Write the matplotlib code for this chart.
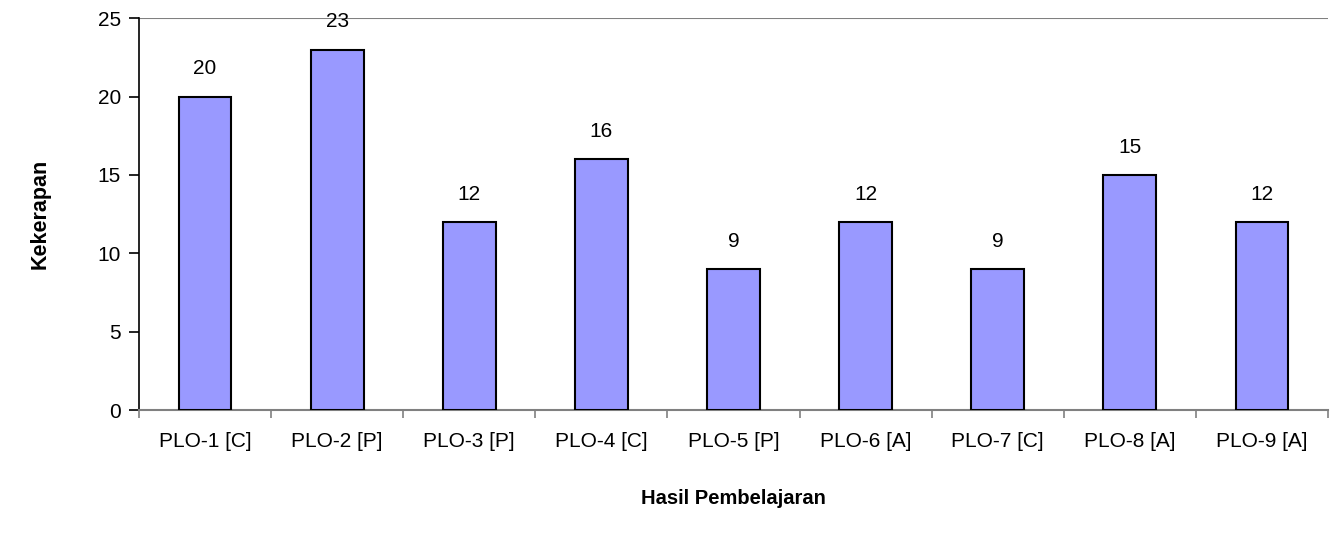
import numpy as np
import matplotlib
matplotlib.use('Agg')
import matplotlib.pyplot as plt

plt.rcParams['font.family'] = ['Liberation Sans', 'DejaVu Sans']

# data
categories = ['PLO-1 [C]', 'PLO-2 [P]', 'PLO-3 [P]', 'PLO-4 [C]', 'PLO-5 [P]',
              'PLO-6 [A]', 'PLO-7 [C]', 'PLO-8 [A]', 'PLO-9 [A]']
values = [20, 23, 12, 16, 9, 12, 9, 15, 12]

fig = plt.figure(figsize=(13.36, 5.34), dpi=100)
ax = fig.add_axes([0.104, 0.232, 0.890, 0.734])

x = np.arange(len(categories))
ax.bar(x, values, width=0.4, color='#9999FF', edgecolor='black', linewidth=1.5, zorder=3)

for xi, v in zip(x, values):
    ax.annotate(str(v), (xi, v), xytext=(0, 20), textcoords='offset points',
                ha='center', va='center', fontsize=15)

ax.set_xlim(-0.5, len(categories) - 0.5)
ax.set_ylim(0, 25)
ax.set_yticks(np.arange(0, 26, 5))

# category labels centred, ticks on the boundaries
ax.set_xticks(x)
ax.set_xticklabels(categories, fontsize=15)
ax.tick_params(axis='x', length=0, pad=16)
ax.set_xticks(np.arange(-0.5, len(categories)), minor=True)
ax.tick_params(axis='x', which='minor', length=6, color='#808080', width=1.2)
ax.tick_params(axis='y', labelsize=15, length=7, width=1.2, pad=6)

ax.axhline(25, color='#808080', linewidth=1.5, zorder=1)
ax.spines['top'].set_visible(False)
ax.spines['right'].set_visible(False)
ax.spines['left'].set_linewidth(1.2)
ax.spines['bottom'].set_color('#808080')
ax.spines['bottom'].set_linewidth(1.5)

ax.set_ylabel('Kekerapan', fontsize=15.5, fontweight='bold', labelpad=34)
ax.set_xlabel('Hasil Pembelajaran', fontsize=14.5, fontweight='bold', labelpad=27)

fig.savefig('out.png', dpi=100)
